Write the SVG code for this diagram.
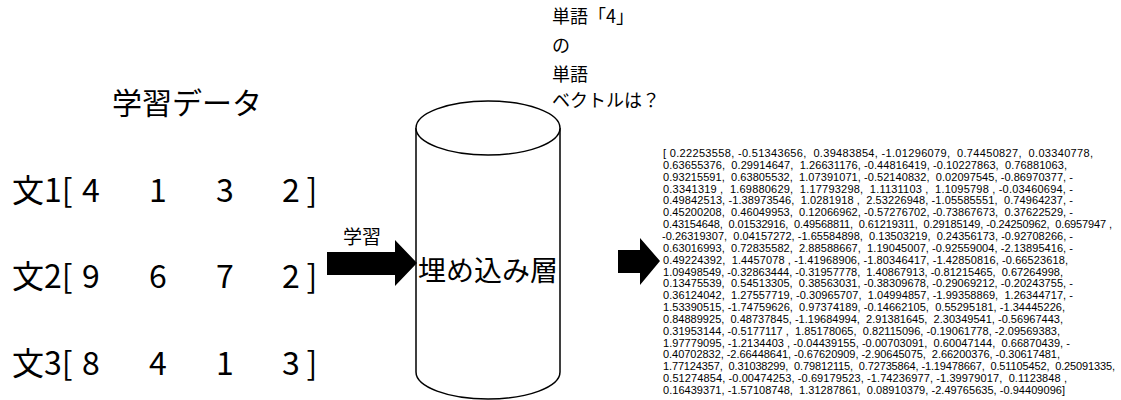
<svg xmlns="http://www.w3.org/2000/svg" width="1121" height="400" viewBox="0 0 1121 400">
<style>
.jp{font-family:"Noto Sans CJK JP","Noto Sans",sans-serif;fill:#000}
.num{font-family:"Liberation Sans","Noto Sans CJK JP",sans-serif;font-size:11px;fill:#000;white-space:pre}
.big{font-size:32px}
.dig{font-family:"Noto Sans CJK JP","Noto Sans",sans-serif;font-size:32px;text-anchor:middle;fill:#000}
.shape{fill:#fff;stroke:#000;stroke-width:1.5}
.arrow{fill:#000;stroke:none}
</style>
<rect width="1121" height="400" fill="#fff"/>
<g id="training-data">
<text class="jp" x="112" y="114" font-size="30">学習データ</text>
<g id="sentence1">
<text class="jp big" x="12" y="202">文1[</text>
<text class="dig" x="91" y="202">4</text>
<text class="dig" x="158" y="202">1</text>
<text class="dig" x="225" y="202">3</text>
<text class="dig" x="291" y="202">2</text>
<text class="dig" x="312" y="202">]</text>
</g>
<g id="sentence2">
<text class="jp big" x="12" y="288">文2[</text>
<text class="dig" x="91" y="288">9</text>
<text class="dig" x="158" y="288">6</text>
<text class="dig" x="225" y="288">7</text>
<text class="dig" x="291" y="288">2</text>
<text class="dig" x="312" y="288">]</text>
</g>
<g id="sentence3">
<text class="jp big" x="12" y="375">文3[</text>
<text class="dig" x="91" y="375">8</text>
<text class="dig" x="158" y="375">4</text>
<text class="dig" x="225" y="375">1</text>
<text class="dig" x="291" y="375">3</text>
<text class="dig" x="312" y="375">]</text>
</g>
</g>
<g id="embedding-layer">
<path class="shape" d="M416,128 L416,372 A72,27 0 0 0 560,372 L560,128 A72,27 0 0 0 416,128 Z"/>
<path class="shape" fill="none" d="M416,128 A72,27 0 0 0 560,128"/>
<text class="jp" x="488" y="281" font-size="28" text-anchor="middle">埋め込み層</text>
</g>
<g id="question">
<text class="jp" font-size="18">
<tspan x="552" y="23">単語「4」</tspan>
<tspan x="552" y="52">の</tspan>
<tspan x="552" y="81">単語</tspan>
<tspan x="552" y="107">ベクトルは？</tspan>
</text>
</g>
<g id="connectors">
<polygon class="arrow" points="327,252 395,252 395,240 417,263 395,286 395,275 327,275"/>
<text class="jp" x="343" y="244" font-size="19">学習</text>
<polygon class="arrow" points="618,250 640,250 640,238 660,261 640,285 640,273 618,273"/>
</g>
<g id="word-vector" class="num">
<text xml:space="preserve" x="663" y="157" textLength="430" lengthAdjust="spacing">[ 0.22253558, -0.51343656,  0.39483854, -1.01296079,  0.74450827,  0.03340778,</text>
<text xml:space="preserve" x="663" y="168.85" textLength="404" lengthAdjust="spacing">0.63655376,  0.29914647,  1.26631176, -0.44816419, -0.10227863,  0.76881063,</text>
<text xml:space="preserve" x="663" y="180.7" textLength="410" lengthAdjust="spacing">0.93215591,  0.63805532,  1.07391071, -0.52140832,  0.02097545, -0.86970377, -</text>
<text xml:space="preserve" x="663" y="192.55" textLength="410" lengthAdjust="spacing">0.3341319 ,  1.69880629,  1.17793298,  1.1131103 ,  1.1095798 , -0.03460694, -</text>
<text xml:space="preserve" x="663" y="204.4" textLength="410" lengthAdjust="spacing">0.49842513, -1.38973546,  1.0281918 ,  2.53226948, -1.05585551,  0.74964237, -</text>
<text xml:space="preserve" x="663" y="216.25" textLength="410" lengthAdjust="spacing">0.45200208,  0.46049953,  0.12066962, -0.57276702, -0.73867673,  0.37622529, -</text>
<text xml:space="preserve" x="663" y="228.1" textLength="449" lengthAdjust="spacing">0.43154648,  0.01532916,  0.49568811,  0.61219311,  0.29185149, -0.24250962,  0.6957947 ,</text>
<text xml:space="preserve" x="662" y="239.95" textLength="411" lengthAdjust="spacing">-0.26319307,  0.04157272, -1.65584898,  0.13503219,  0.24356173, -0.92708266, -</text>
<text xml:space="preserve" x="663" y="251.8" textLength="410" lengthAdjust="spacing">0.63016993,  0.72835582,  2.88588667,  1.19045007, -0.92559004, -2.13895416, -</text>
<text xml:space="preserve" x="663" y="263.65" textLength="405" lengthAdjust="spacing">0.49224392,  1.4457078 , -1.41968906, -1.80346417, -1.42850816, -0.66523618,</text>
<text xml:space="preserve" x="663" y="275.5" textLength="400" lengthAdjust="spacing">1.09498549, -0.32863444, -0.31957778,  1.40867913, -0.81215465,  0.67264998,</text>
<text xml:space="preserve" x="663" y="287.35" textLength="410" lengthAdjust="spacing">0.13475539,  0.54513305,  0.38563031, -0.38309678, -0.29069212, -0.20243755, -</text>
<text xml:space="preserve" x="663" y="299.2" textLength="410" lengthAdjust="spacing">0.36124042,  1.27557719, -0.30965707,  1.04994857, -1.99358869,  1.26344717, -</text>
<text xml:space="preserve" x="663" y="311.05" textLength="402" lengthAdjust="spacing">1.53390515, -1.74759626,  0.97374189, -0.14662105,  0.55295181, -1.34445226,</text>
<text xml:space="preserve" x="663" y="322.9" textLength="400" lengthAdjust="spacing">0.84889925,  0.48737845, -1.19684994,  2.91381645,  2.30349541, -0.56967443,</text>
<text xml:space="preserve" x="663" y="334.75" textLength="397" lengthAdjust="spacing">0.31953144, -0.5177117 ,  1.85178065,  0.82115096, -0.19061778, -2.09569383,</text>
<text xml:space="preserve" x="663" y="346.6" textLength="407" lengthAdjust="spacing">1.97779095, -1.2134403 , -0.04439155, -0.00703091,  0.60047144,  0.66870439, -</text>
<text xml:space="preserve" x="663" y="358.45" textLength="397" lengthAdjust="spacing">0.40702832, -2.66448641, -0.67620909, -2.90645075,  2.66200376, -0.30617481,</text>
<text xml:space="preserve" x="663" y="370.3" textLength="452" lengthAdjust="spacing">1.77124357,  0.31038299,  0.79812115,  0.72735864, -1.19478667,  0.51105452,  0.25091335,</text>
<text xml:space="preserve" x="663" y="382.15" textLength="404" lengthAdjust="spacing">0.51274854, -0.00474253, -0.69179523, -1.74236977, -1.39979017,  0.1123848 ,</text>
<text xml:space="preserve" x="663" y="394" textLength="402" lengthAdjust="spacing">0.16439371, -1.57108748,  1.31287861,  0.08910379, -2.49765635, -0.94409096]</text>
</g>
</svg>
